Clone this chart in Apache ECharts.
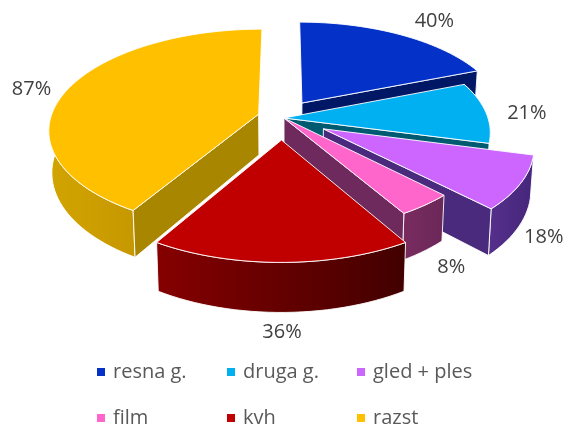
<!DOCTYPE html>
<html>
<head>
<meta charset="utf-8">
<style>
  html, body { margin: 0; padding: 0; background: #fff; }
  #chart { width: 566px; height: 425px; }
</style>
<script src="https://cdn.jsdelivr.net/npm/echarts@6/dist/echarts.min.js"></script>
</head>
<body>
<div id="chart"></div>
<script>
const categories = ['resna g.', 'druga g.', 'gled + ples', 'film', 'kvh', 'razst']
const values = [40, 21, 18, 8, 36, 87]

const topColors = ['#0432C8', '#00B0F0', '#CC66FF', '#FF66CC', '#C00000', '#FFC000']
const sideColors = ['#001766', '#005A70', '#4A2A7C', '#6E2A5C', '#7A0000', '#A88600']
const outerColors = [
  ['#001766', '#001766'],
  ['#005A70', '#005A70'],
  ['#56308C', '#45267A'],
  ['#7A2B60', '#6A2858'],
  ['#860000', '#420000'],
  ['#D2A400', '#C49600']
]
// how far each slice is pulled out, in radius units (right, back)
const pullOut = [[0.09, 0.158], [0, 0], [0.19, -0.11], [0, 0], [-0.012, -0.22], [-0.125, 0.04]]
const sliceRadius = [1, 1, 1, 1, 1, 1.02]
const labelNudge = [[34, -13], [41, 1], [23, 54], [26, 62], [1, 70], [-40, 0]]
const drawOrder = [0, 5, 1, 2, 3, 4]

const cx = 284
const cy = 118
const rx = 204
const ry = 97
const persp = 0.148
const depth = 41
const edge = 'rgba(255,255,255,0.9)'

const total = values.reduce((a, b) => a + b, 0)

const project = (u, v) => {
  const s = 1 / (1 + persp * v)
  return { x: cx + rx * u * s, y: cy - ry * v * s, s }
}
const topPoint = (i, r, deg) => {
  const a = deg * Math.PI / 180
  const p = project(r * Math.sin(a) + pullOut[i][0], r * Math.cos(a) + pullOut[i][1])
  return [p.x, p.y]
}
const lowPoint = (i, r, deg) => {
  const a = deg * Math.PI / 180
  const p = project(r * Math.sin(a) + pullOut[i][0], r * Math.cos(a) + pullOut[i][1])
  return [cx + (p.x - cx) * 0.987, p.y + depth * p.s]
}

const sliceRange = i => {
  let before = 0
  for (let k = 0; k < i; k++) before += values[k]
  return [before / total * 360, (before + values[i]) / total * 360]
}

const poly = (points, fill) => ({
  type: 'polygon',
  shape: { points },
  style: { fill, stroke: edge, lineWidth: 1 }
})

const renderSlice = i => () => {
  const [from, to] = sliceRange(i)
  const steps = Math.max(6, Math.round((to - from) / 2))
  const arcTop = []
  const wallTop = []
  const wallLow = []
  for (let k = 0; k <= steps; k++) {
    const d = from + (to - from) * k / steps
    arcTop.push(topPoint(i, sliceRadius[i], d))
    // the far part of the rim is hidden behind the top face
    if (Math.cos(d * Math.PI / 180) < 0.8) {
      wallTop.push(topPoint(i, sliceRadius[i], d))
      wallLow.push(lowPoint(i, sliceRadius[i], d))
    }
  }
  const apexTop = topPoint(i, 0, 0)
  const apexLow = lowPoint(i, 0, 0)
  const mid = topPoint(i, 1, (from + to) / 2)

  const children = [
    poly(wallTop.concat(wallLow.slice().reverse()), new echarts.graphic.LinearGradient(0, 0, 1, 0, [
      { offset: 0, color: outerColors[i][0] },
      { offset: 1, color: outerColors[i][1] }
    ]))
  ]
  // only the cut faces turned to the viewer are drawn
  if (from > 180) children.push(poly([apexTop, arcTop[0], lowPoint(i, sliceRadius[i], from), apexLow], sideColors[i]))
  if (to < 180) children.push(poly([apexTop, arcTop[steps], lowPoint(i, sliceRadius[i], to), apexLow], sideColors[i]))
  children.push(poly([apexTop].concat(arcTop), topColors[i]))
  children.push({
    type: 'text',
    style: {
      text: values[i] + '%',
      x: mid[0] + labelNudge[i][0],
      y: mid[1] + labelNudge[i][1],
      fill: '#404040',
      font: '20px "Open Sans"',
      align: 'center',
      verticalAlign: 'middle'
    }
  })
  return { type: 'group', children }
}

const chart = echarts.init(document.getElementById('chart'))
const legendBase = {
  orient: 'vertical',
  top: 356,
  height: 110,
  itemWidth: 8,
  itemHeight: 8,
  itemGap: 24,
  icon: 'rect',
  textStyle: { color: '#595959', fontFamily: 'Open Sans', fontSize: 20, lineHeight: 22, padding: [0, 0, 0, 3] },
  selectedMode: false
}
chart.setOption({
  animation: false,
  backgroundColor: '#fff',
  tooltip: { show: false },
  legend: [
    { ...legendBase, left: 92, data: [categories[0], categories[3]] },
    { ...legendBase, left: 222, data: [categories[1], categories[4]] },
    { ...legendBase, left: 352, data: [categories[2], categories[5]] }
  ],
  series: drawOrder.map(i => ({
    type: 'custom',
    name: categories[i],
    coordinateSystem: 'none',
    silent: true,
    itemStyle: { color: topColors[i] },
    data: [values[i]],
    renderItem: renderSlice(i)
  }))
})
window.addEventListener('resize', () => chart.resize())
</script>
</body>
</html>
